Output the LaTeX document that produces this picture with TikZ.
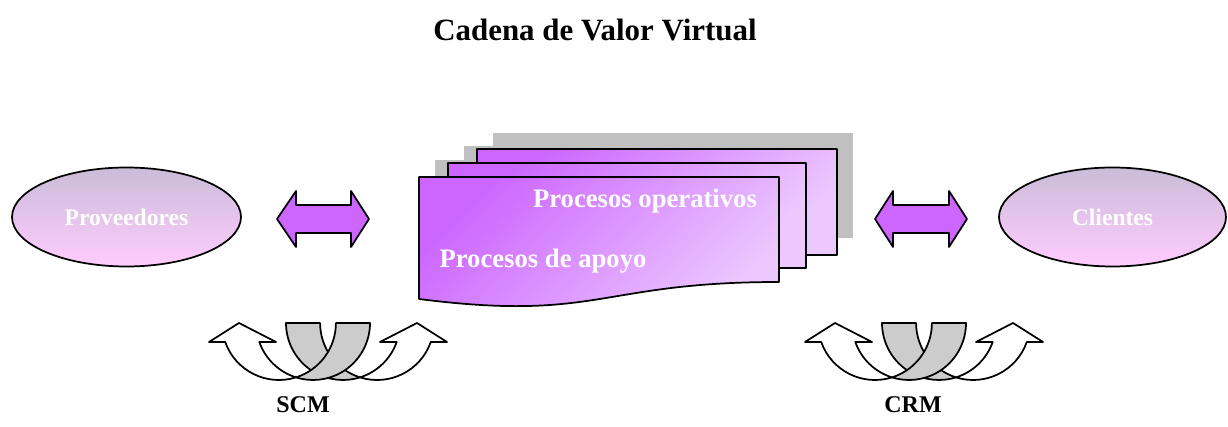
\documentclass[tikz,border=0pt]{standalone}
\usepackage{fontspec}
\setmainfont{Liberation Serif}
\usetikzlibrary{shapes.geometric}

\definecolor{docpurple}{RGB}{204,102,255}
\definecolor{doclight}{RGB}{236,200,255}
\definecolor{elltop}{RGB}{202,188,216}
\definecolor{ellbottom}{RGB}{255,204,255}
\definecolor{shadowgray}{RGB}{192,192,192}
\definecolor{bandgray}{RGB}{204,204,204}

% Two interlaced curved arrows (one turning left, one turning right),
% centred on x = #1; each is a band between two offset circles that
% cross at the bottom: grey back part, white front part with the head.
\newcommand\crossarrows[1]{%
  % arrow turning up to the right
  \path[bandfront] ({#1+32},49.6) arc[start angle=252.6, end angle=340.53, radius=42.75pt]
     -- ({#1+119},85) -- ({#1+89},104) -- ({#1+52},85) -- ({#1+68.7},85)
     arc[start angle=340.53, end angle=287.4, radius=42.75pt] -- cycle;
  \path[band] ({#1-42},104) arc[start angle=180, end angle=287.4, radius=42.75pt]
     arc[start angle=252.6, end angle=180, radius=42.75pt] -- cycle;
  % arrow turning up to the left
  \path[bandfront] ({#1-32},49.6) arc[start angle=287.4, end angle=199.47, radius=42.75pt]
     -- ({#1-119},85) -- ({#1-89},104) -- ({#1-52},85) -- ({#1-68.7},85)
     arc[start angle=199.47, end angle=252.6, radius=42.75pt] -- cycle;
  \path[band] ({#1+42},104) arc[start angle=0, end angle=-107.4, radius=42.75pt]
     arc[start angle=-72.6, end angle=0, radius=42.75pt] -- cycle;
}

\begin{document}
\begin{tikzpicture}[x=0.75pt,y=0.75pt,
  outline/.style={draw=black, line width=1.3pt, line join=round},
  party/.style={ellipse, outline, top color=elltop, bottom color=ellbottom,
    text=white, font=\fontsize{17.7}{20}\selectfont\bfseries, inner sep=0pt},
  sheet/.style={outline, top color=docpurple, bottom color=doclight, shading angle=45},
  shadow/.style={fill=shadowgray},
  linkarrow/.style={outline, fill=docpurple},
  band/.style={outline, fill=bandgray},
  bandfront/.style={outline, fill=white},
  caption/.style={font=\fontsize{18}{22}\selectfont\bfseries, anchor=base},
  doctext/.style={text=white, font=\fontsize{20}{24}\selectfont\bfseries, anchor=base},
]
\useasboundingbox (0,0) rectangle (1228,427);

% title
\node[font=\fontsize{23.2}{28}\selectfont\bfseries, anchor=base] (title) at (595,386) {Cadena de Valor Virtual};

% suppliers and customers
\node[party, minimum width=171.75pt, minimum height=74.25pt] (prov) at (126.5,210) {Proveedores};
\node[party, minimum width=170.25pt, minimum height=74.25pt] (cli) at (1112.5,210) {Clientes};

% two-way links
\path[linkarrow] (277,208) -- (296,236) -- (296,222) -- (351,222) -- (351,236) -- (369,208)
  -- (351,180) -- (351,194) -- (296,194) -- (296,180) -- cycle;
\path[linkarrow] (875,208) -- (893,236) -- (893,222) -- (949,222) -- (949,236) -- (967,208)
  -- (949,180) -- (949,194) -- (893,194) -- (893,180) -- cycle;

% stacked process documents: shadows first, then back to front
\path[shadow] (493,189) rectangle (853,294);
\path[shadow] (464,176) rectangle (822,281);
\path[shadow] (435,159) rectangle (795,267);
\path[sheet] (477,172) rectangle (837,278);
\path[sheet] (448,159) rectangle (806,264);
\path[sheet] (419,250) -- (779,250) -- (779,145) .. controls (599,145) and (599,105) .. (419,128) -- cycle;
\node[doctext] (ops) at (645,219) {Procesos operativos};
\node[doctext] (apoyo) at (543,159) {Procesos de apoyo};

% SCM and CRM symbols
\crossarrows{328}
\crossarrows{924}
\node[caption] (scm) at (303,14) {SCM};
\node[caption] (crm) at (913,14) {CRM};
\end{tikzpicture}
\end{document}
